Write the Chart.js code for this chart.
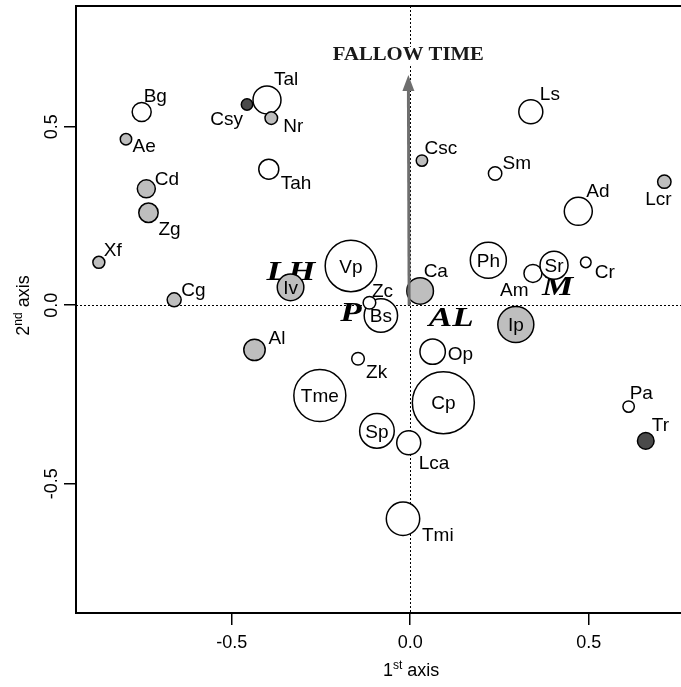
<!DOCTYPE html>
<html><head><meta charset="utf-8">
<script src="https://cdn.jsdelivr.net/npm/chart.js@4.4.0/dist/chart.umd.min.js"></script>
<style>html,body{margin:0;padding:0;background:#fff;} canvas{display:block;}</style>
</head><body>
<canvas id="c" width="681" height="687"></canvas>
<script>
// ---------- data ----------
const species = ['Bg','Ae','Cd','Zg','Xf','Cg','Csy','Tal','Nr','Tah','Vp','Iv','Csc','Ls','Sm','Ad','Lcr','Ph','Am','Sr','Cr','Ca','Bs','Zc','Al','Zk','Tme','Sp','Ip','Op','Cp','Lca','Tmi','Pa','Tr'];
const axis1 = [-0.752,-0.796,-0.739,-0.733,-0.872,-0.661,-0.457,-0.401,-0.389,-0.396,-0.166,-0.335,0.033,0.338,0.238,0.471,0.712,0.219,0.344,0.403,0.492,0.028,-0.082,-0.114,-0.436,-0.146,-0.253,-0.093,0.296,0.063,0.093,-0.004,-0.020,0.612,0.660];
const axis2 = [0.541,0.465,0.326,0.259,0.120,0.015,0.562,0.575,0.524,0.381,0.110,0.050,0.405,0.542,0.369,0.263,0.346,0.126,0.089,0.112,0.120,0.040,-0.029,0.007,-0.125,-0.150,-0.253,-0.352,-0.054,-0.130,-0.273,-0.385,-0.598,-0.284,-0.380];
const abundance = [9.5,5.7,9,9.7,6,7,5.7,14,6.3,10,25.7,13.3,5.7,12,6.7,14,6.7,18,9,14,5.3,13.3,16.7,6.3,10.7,6.3,26,17.3,18,12.7,31,12,16.7,5.7,8.3];
const shade = ['w','g','g','g','g','g','d','w','g','w','w','g','g','w','w','w','g','w','w','w','w','g','w','w','g','w','w','w','g','w','w','w','w','w','d'];
const groupNames = ['LH','P','AL','M'];
const groupX = [-0.334,-0.166,0.115,0.413];
const groupY = [0.095,-0.020,-0.033,0.055];
const arrowLabel = 'FALLOW TIME';
const arrowX = -0.005, arrowY = 0.645;
const xTickLabels = {'-0.5':'-0.5','0':'0.0','0.5':'0.5'};
const yTickLabels = {'-0.5':'-0.5','0':'0.0','0.5':'0.5'};

// ---------- styles ----------
const fills = {w:'#ffffff', g:'#bebebe', d:'#4a4a4a'};
// label placement: [dx, dy(baseline), align] relative to point centre; none = inside
const labelStyle = {
  Bg:[2,-10,'left'], Tal:[7,-15,'left'], Ls:[9,-12,'left'], Ad:[8,-14.5,'left'], Csc:[2.5,-6.5,'left'],
  Sm:[7.5,-4.5,'left'], Cd:[8.5,-3.5,'left'], Xf:[5,-6.5,'left'], Cg:[7,-3.5,'left'], Zc:[2.5,-6,'left'],
  Ca:[3.5,-14,'left'], Al:[14,-6,'left'], Pa:[1,-7.5,'left'], Tr:[6,-9.5,'left'],
  Ae:[6.5,13,'left'], Zg:[10,22,'left'], Nr:[12,13.5,'left'], Tah:[12,19.5,'left'], Zk:[8,19.5,'left'],
  Lca:[10,26,'left'], Tmi:[19,22,'left'], Cr:[9,15.5,'left'], Op:[15,8.5,'left'],
  Csy:[-4,20.5,'right'], Am:[-4.5,22.5,'right'], Lcr:[-6,23.5,'center']
};
const SANS = '"Liberation Sans", Arial, sans-serif';
const SERIF = '"Liberation Serif", "Times New Roman", serif';

const overlay = {
  id: 'overlay',
  beforeDatasetsDraw(chart) {
    const {ctx, chartArea: a, scales: {x, y}} = chart;
    ctx.save();
    ctx.strokeStyle = '#000'; ctx.lineWidth = 1; ctx.setLineDash([2, 2]);
    const x0 = Math.round(x.getPixelForValue(0)) + 0.5, y0 = Math.round(y.getPixelForValue(0)) + 0.5;
    ctx.beginPath(); ctx.moveTo(a.left, y0); ctx.lineTo(a.right, y0); ctx.stroke();
    ctx.beginPath(); ctx.moveTo(x0, a.top); ctx.lineTo(x0, a.bottom); ctx.stroke();
    ctx.setLineDash([]);
    // group labels
    ctx.fillStyle = '#000';
    ctx.font = 'italic bold 27px ' + SERIF;
    ctx.textAlign = 'center'; ctx.textBaseline = 'alphabetic';
    groupNames.forEach((g, i) => {
      const px = x.getPixelForValue(groupX[i]), py = y.getPixelForValue(groupY[i]);
      ctx.save(); ctx.translate(px, py + 9); ctx.scale(1.3, 1);
      ctx.fillText(g, 0, 0); ctx.restore();
    });
    ctx.restore();
  },
  afterDatasetsDraw(chart) {
    const {ctx, scales: {x, y}} = chart;
    ctx.save();
    // arrow
    const sx = x.getPixelForValue(0) - 1, sy = y.getPixelForValue(0);
    const ex = x.getPixelForValue(arrowX), ey = y.getPixelForValue(arrowY);
    const ang = Math.atan2(ey - sy, ex - sx);
    const hl = 16, hw = 6;
    const bx = ex - hl * Math.cos(ang), by = ey - hl * Math.sin(ang);
    ctx.strokeStyle = '#6e6e6e'; ctx.fillStyle = '#6e6e6e'; ctx.lineWidth = 3;
    ctx.beginPath(); ctx.moveTo(sx, sy); ctx.lineTo(bx, by); ctx.stroke();
    ctx.beginPath(); ctx.moveTo(ex, ey);
    ctx.lineTo(bx + hw * Math.sin(ang), by - hw * Math.cos(ang));
    ctx.lineTo(bx - hw * Math.sin(ang), by + hw * Math.cos(ang));
    ctx.closePath(); ctx.fill();
    // arrow label
    ctx.font = 'bold 18px ' + SERIF;
    const w = ctx.measureText(arrowLabel).width;
    const sc = 151 / w;
    ctx.fillStyle = '#fff';
    ctx.fillRect(ex - 78, ey - 28, 156, 18);
    ctx.fillStyle = '#1a1a1a'; ctx.textAlign = 'center'; ctx.textBaseline = 'alphabetic';
    ctx.save(); ctx.translate(ex, ey - 15); ctx.scale(sc, 1); ctx.fillText(arrowLabel, 0, 0); ctx.restore();
    // species labels
    ctx.fillStyle = '#000'; ctx.font = '19px ' + SANS;
    species.forEach((s, i) => {
      const px = x.getPixelForValue(axis1[i]), py = y.getPixelForValue(axis2[i]);
      const st = labelStyle[s];
      if (!st) { ctx.textAlign = 'center'; ctx.fillText(s, px, py + 6.8); }
      else { ctx.textAlign = st[2]; ctx.fillText(s, px + st[0], py + st[1]); }
    });
    ctx.restore();
  },
  afterDraw(chart) {
    const {ctx, chartArea: a, scales: {x, y}} = chart;
    ctx.save();
    ctx.strokeStyle = '#000'; ctx.lineWidth = 2;
    ctx.beginPath(); ctx.moveTo(a.left - 1, a.top); ctx.lineTo(a.right, a.top); ctx.stroke();
    // y tick labels (rotated)
    ctx.fillStyle = '#000'; ctx.font = '18px ' + SANS; ctx.textAlign = 'center'; ctx.textBaseline = 'alphabetic';
    y.ticks.forEach(t => {
      const py = y.getPixelForValue(t.value);
      const lab = yTickLabels[String(t.value)] ?? t.value.toFixed(1);
      ctx.save(); ctx.translate(57, py); ctx.rotate(-Math.PI / 2); ctx.fillText(lab, 0, 0); ctx.restore();
    });
    // axis titles with superscripts
    const drawSup = (parts, cx, cy, rot) => {
      ctx.save(); ctx.translate(cx, cy); ctx.rotate(rot);
      let tot = 0;
      parts.forEach(p => { ctx.font = p[1] + 'px ' + SANS; tot += ctx.measureText(p[0]).width; });
      let xx = -tot / 2;
      ctx.textAlign = 'left';
      parts.forEach(p => { ctx.font = p[1] + 'px ' + SANS; ctx.fillText(p[0], xx, -p[2]); xx += ctx.measureText(p[0]).width; });
      ctx.restore();
    };
    drawSup([['1',18,0],['st',12,7],[' axis',18,0]], x.getPixelForValue(0) + 1, 676, 0);
    drawSup([['2',18,0],['nd',12,7],[' axis',18,0]], 29, (a.top + a.bottom) / 2 - 4, -Math.PI / 2);
    ctx.restore();
  }
};

Chart.defaults.font.family = SANS;
new Chart(document.getElementById('c'), {
  type: 'bubble',
  data: {
    datasets: [{
      data: species.map((s, i) => ({x: axis1[i], y: axis2[i], r: abundance[i]})),
      backgroundColor: shade.map(k => fills[k]),
      borderColor: '#000',
      borderWidth: 1.5,
      hoverRadius: 0
    }]
  },
  options: {
    responsive: false, animation: false, devicePixelRatio: 1,
    layout: {autoPadding: false, padding: {top: 6, right: 0, left: 0, bottom: 0}},
    plugins: {legend: {display: false}, tooltip: {enabled: false}},
    scales: {
      x: {
        type: 'linear', min: -0.936, max: 0.7587,
        afterFit: s => { s.height = 74; },
        ticks: {stepSize: 0.5, includeBounds: false, color: '#000', font: {size: 18}, padding: 7,
          callback: v => xTickLabels[String(v)] ?? Number(v).toFixed(1), maxRotation: 0},
        grid: {drawOnChartArea: false, drawTicks: true, tickLength: 12, color: '#000', lineWidth: 1.5},
        border: {display: true, color: '#000', width: 2}
      },
      y: {
        type: 'linear', min: -0.862, max: 0.838,
        afterFit: s => { s.width = 76; },
        ticks: {stepSize: 0.5, includeBounds: false, display: false},
        grid: {drawOnChartArea: false, drawTicks: true, tickLength: 12, color: '#000', lineWidth: 1.5},
        border: {display: true, color: '#000', width: 2}
      }
    }
  },
  plugins: [overlay]
});
</script>
</body></html>
